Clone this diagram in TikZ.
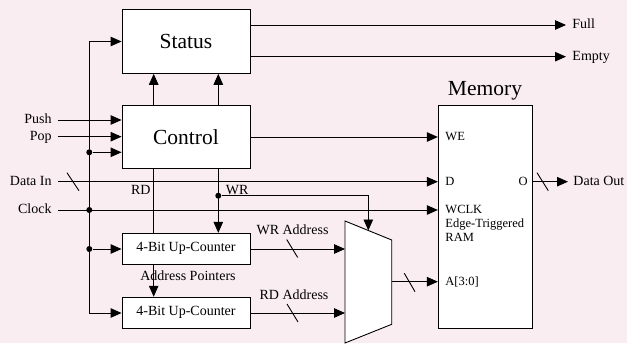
\documentclass[tikz,border=0pt]{standalone}
\usepackage{fontspec}
\setmainfont{Liberation Serif}
\usetikzlibrary{arrows.meta,calc}
\definecolor{bgpink}{RGB}{249,237,241}
\begin{document}
\begin{tikzpicture}[x=1pt,y=-1pt,line width=0.9pt,
  box/.style={draw, fill=white, inner sep=0pt},
  big/.style={font=\fontsize{21.5}{24}\selectfont},
  lbl/.style={font=\fontsize{14}{16}\selectfont, inner sep=0pt, text height=0.68em, text depth=0pt},
  mlbl/.style={font=\fontsize{12.5}{14}\selectfont, inner sep=0pt, text height=0.68em, text depth=0pt},
  arr/.style={-{Triangle[length=11pt,width=9.5pt]}},
  dot/.style={circle, fill=black, inner sep=0pt, minimum size=6pt},
  slash/.style={line width=0.9pt}]
\fill[bgpink] (0,0) rectangle (627,343);
\useasboundingbox (0,0) rectangle (627,343);

% blocks
\node[box, big, minimum width=128pt, minimum height=63.7pt] (status) at (186,41.5) {Status};
\node[box, big, minimum width=128pt, minimum height=63.7pt] (control) at (186,137) {Control};
\node[box, lbl, text depth=0.2em, minimum width=128pt, minimum height=31.4pt] (cnt1) at (186,249) {4-Bit Up-Counter};
\node[box, lbl, text depth=0.2em, minimum width=128pt, minimum height=31.6pt] (cnt2) at (186,313) {4-Bit Up-Counter};
\node[box, minimum width=94pt, minimum height=223pt] (memory) at (485.3,216.8) {};
\node[big, inner sep=0pt, anchor=south] (memtitle) at (485,101) {Memory};

% multiplexer
\coordinate (mtl) at (345,221);
\coordinate (mtr) at (391.7,240);
\coordinate (mbr) at (391.7,324.3);
\coordinate (mbl) at (345,343);
\draw[fill=white] (mtl) -- (mtr) -- (mbr) -- (mbl) -- cycle;

% memory inner labels
\node[mlbl, anchor=west] (we) at (445,137) {WE};
\node[mlbl, anchor=west] (din) at (445,181.7) {D};
\node[mlbl, anchor=east] (dout) at (528,181.7) {O};
\node[mlbl, anchor=west] (wclk) at (445,210) {WCLK};
\node[mlbl, anchor=west] (etrig) at (445,224.5) {Edge-Triggered};
\node[mlbl, anchor=west] (ram) at (445,238.5) {RAM};
\node[mlbl, anchor=west] (addr) at (445,281.7) {A[3:0]};

% status outputs
\node[lbl, anchor=west] (full) at (572,25) {Full};
\node[lbl, anchor=west] (empty) at (572,56.7) {Empty};
\draw[arr] (status.east |- 0,25) -- (566,25);
\draw[arr] (status.east |- 0,56.7) -- (566,56.7);

% control -> status
\draw[arr] (153.7,0 |- control.north) -- (153.7,0 |- status.south);
\draw[arr] (218.3,0 |- control.north) -- (218.3,0 |- status.south);

% control -> WE
\draw[arr] (control.east) -- (control.east -| memory.west);

% inputs
\node[lbl, anchor=east] (push) at (52,120) {Push};
\node[lbl, anchor=east] (pop) at (52,136.7) {Pop};
\node[lbl, anchor=east] (datain) at (52,181.7) {Data In};
\node[lbl, anchor=east] (clock) at (52,210) {Clock};
\draw[arr] (58,120) -- (control.west |- 0,120);
\draw[arr] (58,136.7) -- (control.west |- 0,136.7);

% clock bus
\coordinate (vtop) at (89.3,41.5);
\coordinate (vbot) at (89.3,313);
\draw[arr] (vtop) -- (status.west);
\draw (vtop) -- (vbot);
\draw[arr] (vbot) -- (cnt2.west);
\node[dot] (d1) at (89.3,152.3) {};
\draw[arr] (d1) -- (control.west |- d1);
\node[dot] (d2) at (89.3,210) {};
\node[dot] (d3) at (89.3,249) {};
\draw[arr] (d3) -- (cnt1.west);
\draw[arr] (58,210) -- (memory.west |- 0,210);

% data in
\draw[arr] (58,181.7) -- (memory.west |- 0,181.7);
\draw[slash] (67,172.7) -- (79,190.7);

% RD / WR
\draw (153.7,0 |- control.south) -- (153.7,0 |- cnt1.north);
\draw[arr] (153.7,0 |- cnt1.south) -- (153.7,0 |- cnt2.north);
\node[lbl, anchor=east] (rdl) at (151,191) {RD};
\draw[arr] (218.3,0 |- control.south) -- (218.3,0 |- cnt1.north);
\node[dot] (d4) at (218.3,195.7) {};
\node[lbl, anchor=west] (wrl) at (225.5,191) {WR};
\coordinate (muxsel) at (368.3,230.5);
\draw[arr] (d4) -| (muxsel);
\node[lbl] (ap) at (188,277.3) {Address Pointers};

% addresses
\draw[arr] (cnt1.east) -- (cnt1.east -| mtl);
\draw[slash] (286.7,239.5) -- (297.7,257.5);
\node[lbl] (wra) at (292.5,231) {WR Address};
\draw[arr] (cnt2.east) -- (cnt2.east -| mtl);
\draw[slash] (287,304) -- (298,322);
\node[lbl] (rda) at (294,295.7) {RD Address};

% mux -> memory
\coordinate (muxout) at (391.7,281.7);
\draw[arr] (muxout) -- (memory.west |- muxout);
\draw[slash] (404.3,273.3) -- (415,291.7);

% data out
\draw[arr] (memory.east |- 0,181.7) -- (568,181.7);
\draw[slash] (537,172.7) -- (548.3,190.7);
\node[lbl, anchor=west] (dataout) at (573,181.7) {Data Out};
\end{tikzpicture}
\end{document}
